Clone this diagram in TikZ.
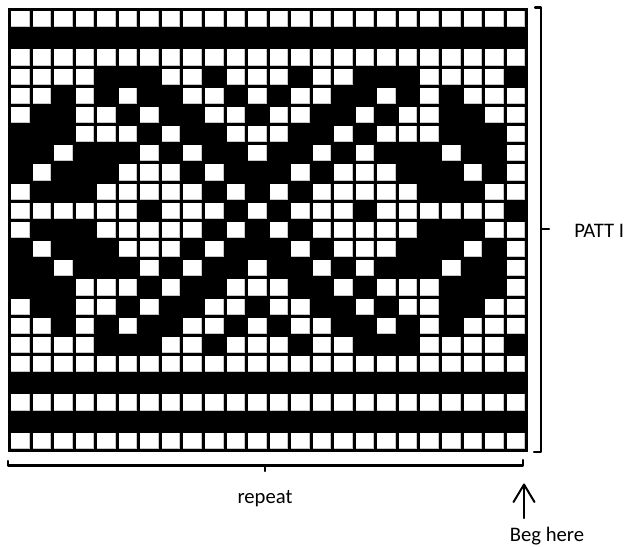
\documentclass[tikz,border=0pt]{standalone}
\usepackage{fontspec}
\setmainfont{Carlito}
\begin{document}
\begin{tikzpicture}[x=0.75pt,y=-0.75pt,
  lbl/.style={inner sep=0pt,font=\fontsize{15.5}{18}\selectfont},
  brk/.style={line width=1.6pt,line join=round,line cap=round}]
\useasboundingbox (0,0) rectangle (630,546);
\fill[white] (0,0) rectangle (630,546);
% chart background
\fill[black] (8,8) rectangle (528,452);
\def\px{21.55}
\def\py{19.17}
\foreach \row [count=\r from 0] in {
 {0,0,0,0,0,0,0,0,0,0,0,0,0,0,0,0,0,0,0,0,0,0,0,0},
 {1,1,1,1,1,1,1,1,1,1,1,1,1,1,1,1,1,1,1,1,1,1,1,1},
 {0,0,0,0,0,0,0,0,0,0,0,0,0,0,0,0,0,0,0,0,0,0,0,0},
 {0,0,0,0,1,1,1,0,0,1,0,0,0,1,0,0,1,1,1,0,0,0,0,1},
 {0,0,1,0,1,0,1,1,0,0,1,0,1,0,0,1,1,0,1,0,1,0,0,0},
 {0,1,1,0,0,1,0,1,1,0,0,1,0,0,1,1,0,1,0,0,1,1,0,0},
 {1,1,1,0,0,0,1,0,1,1,0,0,0,1,1,0,1,0,0,0,1,1,1,0},
 {1,1,0,1,1,1,0,1,0,1,1,0,1,1,0,1,0,1,1,1,0,1,1,0},
 {1,0,1,1,1,0,0,0,1,0,1,1,1,0,1,0,0,0,1,1,1,0,1,0},
 {0,1,1,1,0,0,0,0,0,1,0,1,0,1,0,0,0,0,0,1,1,1,0,0},
 {0,0,0,0,0,0,1,0,0,0,1,0,1,0,0,0,1,0,0,0,0,0,0,1},
 {0,1,1,1,0,0,0,0,0,1,0,1,0,1,0,0,0,0,0,1,1,1,0,0},
 {1,0,1,1,1,0,0,0,1,0,1,1,1,0,1,0,0,0,1,1,1,0,1,0},
 {1,1,0,1,1,1,0,1,0,1,1,0,1,1,0,1,0,1,1,1,0,1,1,0},
 {1,1,1,0,0,0,1,0,1,1,0,0,0,1,1,0,1,0,0,0,1,1,1,0},
 {0,1,1,0,0,1,0,1,1,0,0,1,0,0,1,1,0,1,0,0,1,1,0,0},
 {0,0,1,0,1,0,1,1,0,0,1,0,1,0,0,1,1,0,1,0,1,0,0,0},
 {0,0,0,0,1,1,1,0,0,1,0,0,0,1,0,0,1,1,1,0,0,0,0,1},
 {0,0,0,0,0,0,0,0,0,0,0,0,0,0,0,0,0,0,0,0,0,0,0,0},
 {1,1,1,1,1,1,1,1,1,1,1,1,1,1,1,1,1,1,1,1,1,1,1,1},
 {0,0,0,0,0,0,0,0,0,0,0,0,0,0,0,0,0,0,0,0,0,0,0,0},
 {1,1,1,1,1,1,1,1,1,1,1,1,1,1,1,1,1,1,1,1,1,1,1,1},
 {0,0,0,0,0,0,0,0,0,0,0,0,0,0,0,0,0,0,0,0,0,0,0,0}}{
  \foreach \v [count=\c from 0] in \row {
    \ifnum\v=0
      \fill[gray!45] ({8+\px*\c+3},{8+\py*\r+3}) rectangle ({8+\px*(\c+1)},{8+\py*(\r+1)});
      \fill[white] ({8+\px*\c+3},{8+\py*\r+3}) rectangle ({8+\px*(\c+1)-1},{8+\py*(\r+1)-1});
    \fi
  }
}
% brackets
\draw[brk] (8,461) -- (8,465.5) -- (523,465.5) -- (523,460);
\coordinate (rtick) at (265,465.5);
\draw[brk] (rtick) -- ++(0,5.5);
\draw[brk] (535,7.5) -- (541,7.5) -- (541,452) -- (534,452);
\coordinate (ptick) at (541,229);
\draw[brk] (ptick) -- ++(8,0);
% labels
\node[lbl,anchor=base west] (patt) at (574,237.7) {PATT I};
\node[lbl,anchor=base] (repeat) at (265,503) {repeat};
\node[lbl,anchor=base] (beg) at (547,541.5) {Beg here};
% arrow
\coordinate (atip) at (524,484.5);
\coordinate (atail) at (524,518);
\draw[line width=1.5pt,line join=round,line cap=round] (atail) -- (atip);
\draw[line width=1.5pt,line join=round,line cap=round] (513.5,502) -- (atip) -- (534.5,502);
\end{tikzpicture}
\end{document}
